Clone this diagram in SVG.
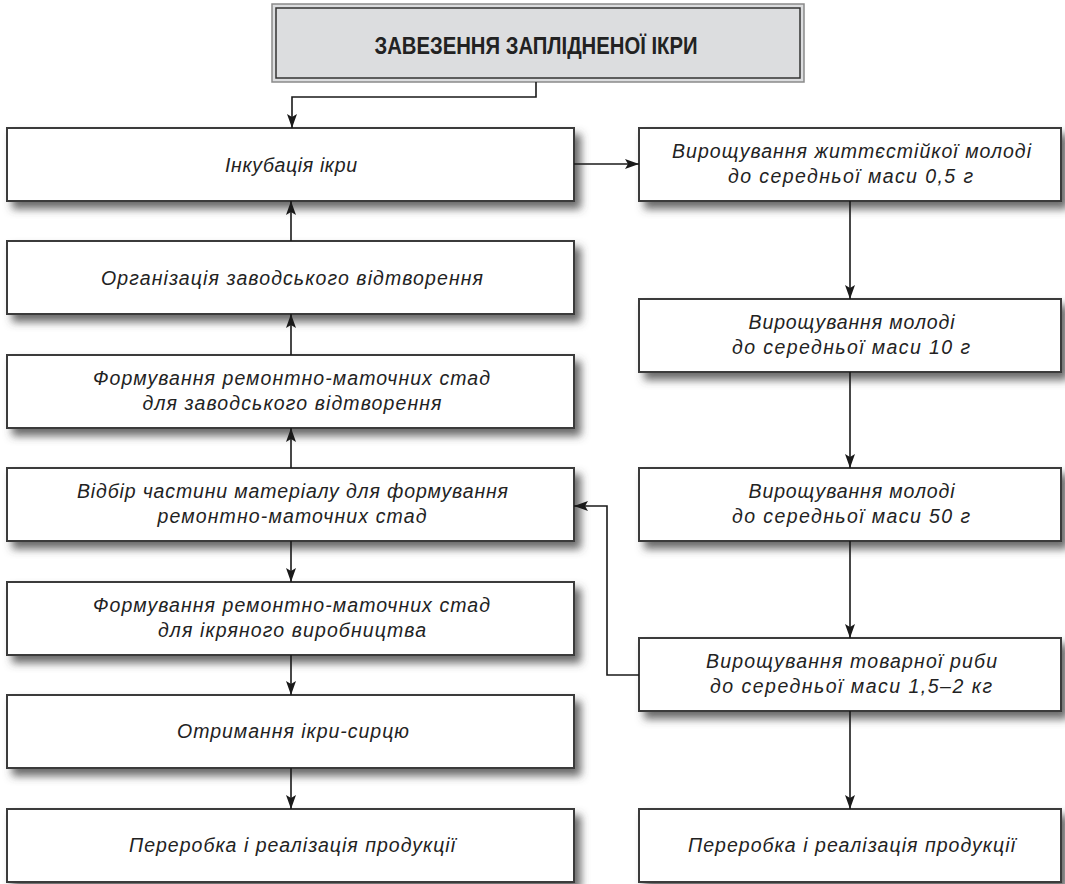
<svg xmlns="http://www.w3.org/2000/svg" width="1065" height="884" viewBox="0 0 1065 884">
<defs>
<style>
.box{fill:#fff;stroke:#3a3a3a;stroke-width:2;filter:url(#sh)}
.t{font-family:"Liberation Sans",Arial,sans-serif;font-style:italic;font-size:19.5px;fill:#222;text-anchor:middle}
.ttl{font-family:"Liberation Sans",Arial,sans-serif;font-weight:bold;font-size:24px;fill:#222;text-anchor:middle}
.c{fill:none;stroke:#1a1a1a;stroke-width:1.6}
</style>
<filter id="sh" x="-5%" y="-20%" width="115%" height="160%">
<feDropShadow dx="6" dy="7" stdDeviation="4" flood-color="#444" flood-opacity="0.8"/>
</filter>
<marker id="ah" viewBox="0 0 14 10" refX="14" refY="5" markerWidth="14" markerHeight="10" orient="auto" markerUnits="userSpaceOnUse">
<path d="M0,0 L14,5 L0,10 L3,5 z" fill="#1a1a1a"/>
</marker>
</defs>

<g id="top">
<rect x="272" y="4" width="532" height="78" fill="#dcdddf" stroke="#8a8a8a" stroke-width="1.5"/>
<rect x="276" y="8" width="524" height="70" fill="#dcdddf" stroke="#333" stroke-width="1.5"/>
<text class="ttl" x="536" y="54" textLength="323" lengthAdjust="spacingAndGlyphs">ЗАВЕЗЕННЯ ЗАПЛІДНЕНОЇ ІКРИ</text>
</g>

<g id="b1"><rect class="box" x="7" y="128" width="567" height="73"/>
<text class="t" x="291" y="171.5" textLength="132">Інкубація ікри</text></g>
<g id="b2"><rect class="box" x="7" y="241" width="567" height="73"/>
<text class="t" x="292" y="284.5" textLength="382">Організація заводського відтворення</text></g>
<g id="b3"><rect class="box" x="7" y="355" width="567" height="73"/>
<text class="t" x="291.5" y="385" textLength="397">Формування ремонтно-маточних стад</text>
<text class="t" x="292" y="410" textLength="299">для заводського відтворення</text></g>
<g id="b4"><rect class="box" x="7" y="468" width="567" height="73"/>
<text class="t" x="292.5" y="498" textLength="431">Відбір частини матеріалу для формування</text>
<text class="t" x="292" y="523" textLength="269">ремонтно-маточних стад</text></g>
<g id="b5"><rect class="box" x="7" y="582" width="567" height="73"/>
<text class="t" x="291.5" y="612" textLength="397">Формування ремонтно-маточних стад</text>
<text class="t" x="292" y="637" textLength="268">для ікряного виробництва</text></g>
<g id="b6"><rect class="box" x="7" y="695" width="567" height="73"/>
<text class="t" x="293" y="738" textLength="232">Отримання ікри-сирцю</text></g>
<g id="b7"><rect class="box" x="7" y="809" width="567" height="73"/>
<text class="t" x="292" y="852" textLength="326">Переробка і реалізація продукції</text></g>

<g id="r1"><rect class="box" x="639" y="128" width="422" height="73"/>
<text class="t" x="851.5" y="158" textLength="359">Вирощування життєстійкої молоді</text>
<text class="t" x="850.5" y="183" textLength="245">до середньої маси 0,5 г</text></g>
<g id="r2"><rect class="box" x="639" y="299" width="422" height="73"/>
<text class="t" x="851.5" y="329" textLength="206">Вирощування молоді</text>
<text class="t" x="851" y="354" textLength="238">до середньої маси 10 г</text></g>
<g id="r3"><rect class="box" x="639" y="468" width="422" height="73"/>
<text class="t" x="851.5" y="498" textLength="206">Вирощування молоді</text>
<text class="t" x="851" y="523" textLength="238">до середньої маси 50 г</text></g>
<g id="r4"><rect class="box" x="639" y="638" width="422" height="73"/>
<text class="t" x="851.5" y="668" textLength="291">Вирощування товарної риби</text>
<text class="t" x="851" y="693" textLength="282">до середньої маси 1,5–2 кг</text></g>
<g id="r5"><rect class="box" x="639" y="809" width="422" height="73"/>
<text class="t" x="851.5" y="852" textLength="327">Переробка і реалізація продукції</text></g>

<g id="connectors">
<path class="c" d="M536,82 V97 H292 V128" marker-end="url(#ah)" stroke-width="2"/>
<path class="c" d="M291,241 V201" marker-end="url(#ah)"/>
<path class="c" d="M291,355 V314" marker-end="url(#ah)"/>
<path class="c" d="M291,468 V428" marker-end="url(#ah)"/>
<path class="c" d="M291,541 V582" marker-end="url(#ah)"/>
<path class="c" d="M291,655 V695" marker-end="url(#ah)"/>
<path class="c" d="M291,768 V809" marker-end="url(#ah)"/>
<path class="c" d="M574,164 H639" marker-end="url(#ah)" stroke-width="2"/>
<path class="c" d="M850,201 V299" marker-end="url(#ah)"/>
<path class="c" d="M850,372 V468" marker-end="url(#ah)"/>
<path class="c" d="M850,541 V638" marker-end="url(#ah)"/>
<path class="c" d="M850,711 V809" marker-end="url(#ah)"/>
<path class="c" d="M639,675 H607 V506 H574" marker-end="url(#ah)"/>
</g>
</svg>
